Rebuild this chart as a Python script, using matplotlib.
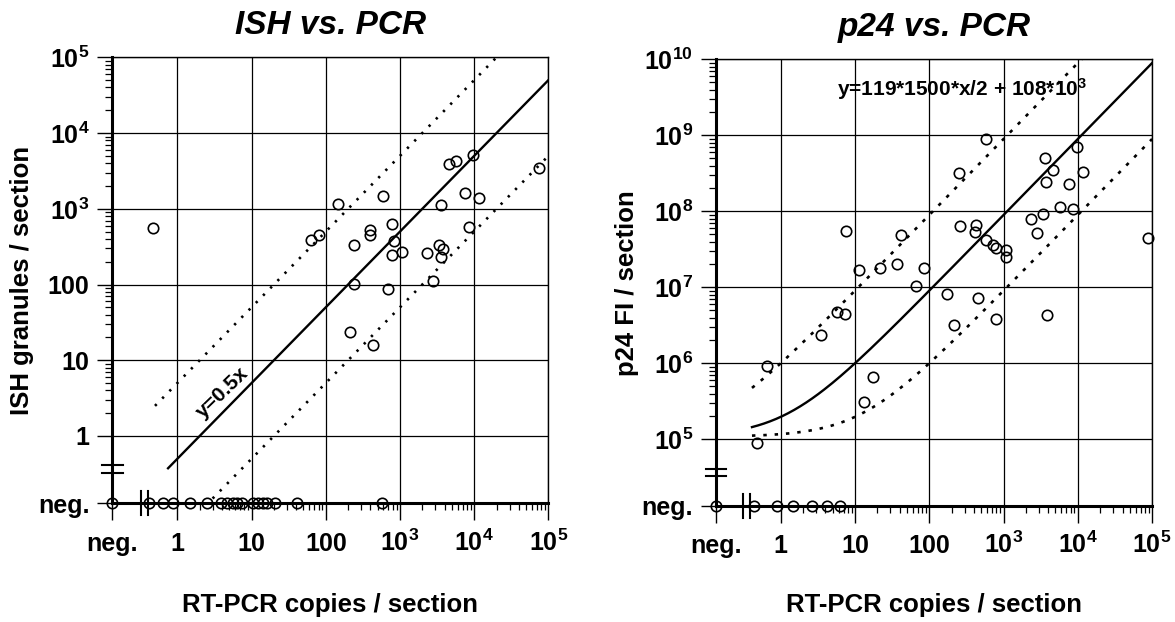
import numpy as np
import matplotlib
matplotlib.use('Agg')
import matplotlib.pyplot as plt
from matplotlib.ticker import FixedLocator, FixedFormatter, NullFormatter

plt.rcParams['font.family'] = ['Liberation Sans', 'DejaVu Sans']
plt.rcParams['font.weight'] = 'bold'
plt.rcParams['axes.labelweight'] = 'bold'
plt.rcParams['mathtext.fontset'] = 'custom'
plt.rcParams['mathtext.rm'] = 'Liberation Sans:bold'
plt.rcParams['mathtext.it'] = 'Liberation Sans:bold:italic'
plt.rcParams['mathtext.bf'] = 'Liberation Sans:bold'

# ---- data ----
# ISH vs PCR, both positive
ish_pcr = [0.47, 147, 63, 82, 244, 244, 590, 400, 400, 780, 835, 780, 1065, 690,
           2330, 2770, 3330, 3800, 3600, 3600, 4570, 5750, 9550, 7600, 11800, 8560,
           74000, 209, 433]
ish_granules = [550, 1170, 383, 455, 336, 101, 1470, 530, 455, 635, 375, 245, 265, 88,
                258, 112, 336, 296, 228, 1130, 3870, 4330, 5160, 1630, 1410, 574,
                3440, 23.9, 15.8]
# PCR positive, ISH negative
ish_neg_pcr = [0.42, 0.65, 0.88, 1.5, 2.5, 3.9, 4.6, 5.7, 6.4, 7.4, 10.6, 12.3,
               14.1, 16, 20.7, 40.5, 570]

# p24 vs PCR, both positive
p24_pcr = [578, 250, 3600, 4700, 3700, 9750, 11700, 7650, 5700, 8700, 2350, 3400, 2800,
           257, 423, 408, 578, 711, 780, 1090, 1090, 7.6, 41.6, 11.3, 22, 37, 85, 66,
           171, 446, 89000, 3800, 800, 218, 5.7, 7.4, 3.45, 0.65, 17.5, 13.4, 0.48]
p24_fi = [8.9e8, 3.2e8, 5.0e8, 3.5e8, 2.4e8, 7.1e8, 3.3e8, 2.3e8, 1.14e8, 1.07e8, 8.0e7,
          9.1e7, 5.2e7, 6.4e7, 6.6e7, 5.3e7, 4.25e7, 3.6e7, 3.3e7, 3.1e7, 2.5e7, 5.5e7,
          4.9e7, 1.7e7, 1.78e7, 2.0e7, 1.8e7, 1.05e7, 8.2e6, 7.2e6, 4.4e7, 4.3e6, 3.8e6,
          3.2e6, 4.7e6, 4.4e6, 2.34e6, 9.2e5, 6.6e5, 3.1e5, 8.9e4]
# PCR positive, p24 negative
p24_neg_pcr = [0.44, 0.90, 1.48, 2.6, 4.2, 6.3]

# fit lines
ish_slope = 0.5
p24_a, p24_b, p24_off = 119, 1500, 108e3

x_labels = ['neg.', '1', '10', '100', r'$10^{3}$', r'$10^{4}$', r'$10^{5}$']
ish_ylabels = ['neg.', '1', '10', '100', r'$10^{3}$', r'$10^{4}$', r'$10^{5}$']
p24_ylabels = ['neg.', r'$10^{5}$', r'$10^{6}$', r'$10^{7}$', r'$10^{8}$',
               r'$10^{9}$', r'$10^{10}$']


def setup_axes(ax, xneg, yneg, ydec0, ydec1, ylabels, xbreaks, ybreaks):
    ax.set_xscale('log')
    ax.set_yscale('log')
    ax.set_xlim(xneg, 1e5)
    ax.set_ylim(yneg, 10.0 ** ydec1)

    ax.xaxis.set_major_locator(FixedLocator([xneg] + [10.0 ** k for k in range(0, 6)]))
    ax.xaxis.set_major_formatter(FixedFormatter(x_labels))
    ax.xaxis.set_minor_locator(FixedLocator([m * 10.0 ** k for k in range(0, 5) for m in range(2, 10)]))
    ax.xaxis.set_minor_formatter(NullFormatter())

    ax.yaxis.set_major_locator(FixedLocator([yneg] + [10.0 ** k for k in range(ydec0, ydec1 + 1)]))
    ax.yaxis.set_major_formatter(FixedFormatter(ylabels))
    ax.yaxis.set_minor_locator(FixedLocator([m * 10.0 ** k for k in range(ydec0, ydec1) for m in range(2, 10)]))
    ax.yaxis.set_minor_formatter(NullFormatter())

    ax.tick_params(axis='x', which='major', direction='out', length=12, width=1,
                   labelsize=18, pad=22)
    ax.tick_params(axis='y', which='major', direction='out', length=11, width=1,
                   labelsize=18, pad=5.5)
    ax.tick_params(which='minor', direction='out', length=5, width=0.9)
    plt.setp(ax.get_xticklabels(), va='baseline')

    ax.grid(which='major', color='black', lw=0.9)
    ax.set_axisbelow(True)
    for s in ['left', 'bottom']:
        ax.spines[s].set_linewidth(2.2)
    for s in ['top', 'right']:
        ax.spines[s].set_linewidth(1.0)

    # axis break marks
    for xb in xbreaks:
        ax.plot([xb, xb], [yneg * 10 ** -0.16, yneg * 10 ** 0.16], color='black',
                lw=1.5, clip_on=False, zorder=4)
    for yb in ybreaks:
        ax.plot([xneg * 10 ** -0.14, xneg * 10 ** 0.14], [yb, yb], color='black',
                lw=1.5, clip_on=False, zorder=4)


fig = plt.figure(figsize=(11.75, 6.22), dpi=100)
ax1 = fig.add_axes([0.0956, 0.1908, 0.3711, 0.7170])
ax2 = fig.add_axes([0.6094, 0.1865, 0.3711, 0.7182])

mk = dict(marker='o', ms=7.5, mfc='none', mec='black', mew=1.2, ls='none',
          clip_on=False, zorder=5)
dots = (0, (0.9, 3.0))

# ---- ISH vs PCR ----
xneg1, yneg1 = 10 ** -0.876, 10 ** -0.889
setup_axes(ax1, xneg1, yneg1, 0, 5, ish_ylabels,
           [10 ** -0.489, 10 ** -0.391], [10 ** -0.383, 10 ** -0.485])
xs = np.logspace(np.log10(0.5), 5, 50)
ax1.plot(xs, ish_slope * 10 * xs, color='black', lw=1.9, ls=dots)
ax1.plot(xs, ish_slope * 0.1 * xs, color='black', lw=1.9, ls=dots)
xs = np.logspace(np.log10(0.75), 5, 50)
ax1.plot(xs, ish_slope * xs, color='black', lw=1.7)
ax1.text(4.0, 3.7, 'y=0.5x', rotation=44, ha='center', va='center', fontsize=15,
         rotation_mode='anchor')
ax1.plot(ish_pcr, ish_granules, **mk)
ax1.plot(ish_neg_pcr, [yneg1] * len(ish_neg_pcr), **mk)
ax1.plot([xneg1], [yneg1], **mk)
ax1.set_title('ISH vs. PCR', fontsize=24, fontstyle='italic', fontweight='bold', pad=17)
ax1.set_ylabel('ISH granules / section', fontsize=18.5, fontweight='bold', va='center')
ax1.yaxis.set_label_coords(-0.207, 0.5)
ax1.set_xlabel('RT-PCR copies / section', fontsize=18.5, fontweight='bold', va='center')
ax1.xaxis.set_label_coords(0.5, -0.228)

# ---- p24 vs PCR ----
xneg2, yneg2 = 10 ** -0.871, 10 ** 4.122
setup_axes(ax2, xneg2, yneg2, 5, 10, p24_ylabels,
           [10 ** -0.503, 10 ** -0.413], [10 ** 4.613, 10 ** 4.517])
xs = np.logspace(np.log10(0.41), 5, 200)
k = p24_a * p24_b / 2
ax2.plot(xs, 10 * k * xs + p24_off, color='black', lw=1.9, ls=(0, (1.3, 3.0)))
ax2.plot(xs, 0.1 * k * xs + p24_off, color='black', lw=1.9, ls=(0, (1.3, 3.0)))
ax2.plot(xs, k * xs + p24_off, color='black', lw=1.7)
ax2.text(5.67, 10 ** 9.517, r'y=119*1500*x/2 + 108*$10^{3}$', ha='left', va='baseline',
         fontsize=15)
ax2.plot(p24_pcr, p24_fi, **mk)
ax2.plot(p24_neg_pcr, [yneg2] * len(p24_neg_pcr), **mk)
ax2.plot([xneg2], [yneg2], **mk)
ax2.set_title('p24 vs. PCR', fontsize=24, fontstyle='italic', fontweight='bold', pad=17)
ax2.set_ylabel('p24 FI / section', fontsize=18.5, fontweight='bold', va='center')
ax2.yaxis.set_label_coords(-0.204, 0.5)
ax2.set_xlabel('RT-PCR copies / section', fontsize=18.5, fontweight='bold', va='center')
ax2.xaxis.set_label_coords(0.5, -0.2216)

fig.savefig('out.png', dpi=100)
